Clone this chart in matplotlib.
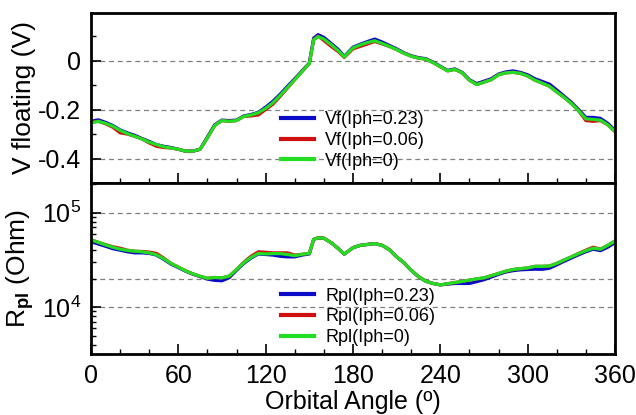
import numpy as np
import matplotlib
matplotlib.use("Agg")
import matplotlib.pyplot as plt
from matplotlib.ticker import MultipleLocator, FixedLocator, NullFormatter, LogLocator

plt.rcParams['font.family'] = ['Liberation Sans', 'DejaVu Sans']
plt.rcParams['axes.unicode_minus'] = False
plt.rcParams['mathtext.fontset'] = 'custom'
plt.rcParams['mathtext.rm'] = 'Liberation Sans'
plt.rcParams['mathtext.bf'] = 'Liberation Sans:bold'

# 궤도 각도 (deg)
angle = [0, 5, 10, 15, 20, 25, 30, 35, 40, 45, 50, 55, 60, 65, 70, 75, 80, 85, 90, 95,
         100, 105, 110, 115, 120, 125, 130, 135, 140, 145, 150, 153, 156, 160, 165, 170, 174,
         180, 185, 190, 195, 200, 205, 210, 215, 220, 225, 230, 235, 240, 245, 250, 255,
         260, 265, 270, 275, 280, 285, 290, 295, 300, 305, 310, 315, 320, 325, 330, 335,
         340, 345, 350, 355, 360]

# floating potential (V)
vf_0 = [-0.255, -0.248, -0.256, -0.268, -0.285, -0.298, -0.309, -0.320, -0.333, -0.343,
        -0.352, -0.357, -0.362, -0.370, -0.370, -0.362, -0.315, -0.265, -0.245, -0.248,
        -0.245, -0.228, -0.222, -0.213, -0.195, -0.172, -0.142, -0.110, -0.078, -0.045,
        -0.012, 0.085, 0.098, 0.088, 0.065, 0.040, 0.015,
        0.052, 0.064, 0.074, 0.081, 0.070, 0.058, 0.045, 0.030, 0.018, 0.010, 0.006, -0.008,
        -0.025, -0.042, -0.036, -0.050, -0.080, -0.098, -0.088, -0.078, -0.058, -0.050,
        -0.048, -0.052, -0.063, -0.080, -0.092, -0.105, -0.128, -0.150, -0.175, -0.205,
        -0.238, -0.240, -0.243, -0.262, -0.290]
vf_006 = [-0.252, -0.248, -0.258, -0.272, -0.295, -0.300, -0.309, -0.320, -0.336, -0.350,
          -0.355, -0.357, -0.362, -0.370, -0.370, -0.362, -0.315, -0.265, -0.245, -0.248,
          -0.245, -0.228, -0.226, -0.222, -0.200, -0.178, -0.146, -0.112, -0.078, -0.045,
          -0.012, 0.085, 0.100, 0.082, 0.058, 0.036, 0.013,
          0.048, 0.058, 0.068, 0.078, 0.068, 0.058, 0.045, 0.030, 0.018, 0.010, 0.006, -0.008,
          -0.025, -0.042, -0.036, -0.050, -0.080, -0.098, -0.088, -0.078, -0.058, -0.050,
          -0.048, -0.052, -0.063, -0.080, -0.092, -0.105, -0.128, -0.150, -0.175, -0.205,
          -0.245, -0.248, -0.245, -0.262, -0.290]
vf_023 = [-0.248, -0.242, -0.252, -0.265, -0.283, -0.295, -0.305, -0.318, -0.330, -0.343,
          -0.350, -0.355, -0.362, -0.370, -0.370, -0.362, -0.312, -0.262, -0.243, -0.245,
          -0.243, -0.226, -0.220, -0.211, -0.190, -0.166, -0.137, -0.105, -0.074, -0.042,
          -0.010, 0.092, 0.106, 0.095, 0.070, 0.045, 0.017,
          0.055, 0.067, 0.078, 0.088, 0.076, 0.062, 0.048, 0.032, 0.020, 0.012, 0.008, -0.006,
          -0.023, -0.040, -0.034, -0.048, -0.078, -0.094, -0.084, -0.074, -0.055, -0.046,
          -0.042, -0.048, -0.058, -0.074, -0.085, -0.096, -0.120, -0.145, -0.170, -0.200,
          -0.232, -0.232, -0.236, -0.256, -0.285]

# plasma resistance (Ohm)
rpl_0 = [51500, 48500, 45500, 43000, 41000, 39800, 39000, 38500, 37500, 35800,
         32500, 29000, 26500, 24200, 22500, 21200, 20200, 20600, 20400, 21300,
         25000, 29500, 33500, 37000, 36500, 36800, 36800, 36000, 35000, 36200,
         37000, 52000, 54000, 53500, 48000, 41500, 36300,
         42500, 45000, 46000, 47000, 45000, 40500, 34000, 29500, 24500, 21000, 18800, 17800,
         17200, 17700, 18200, 18700, 19300, 19900, 20400, 21500, 22700, 24000, 25000,
         25500, 26000, 27000, 27000, 27200, 29000, 31500, 34000, 36800, 39500, 42000,
         41000, 45000, 50000]
rpl_006 = [51500, 48500, 45800, 43500, 42000, 40000, 39000, 38800, 38200, 37000,
           33000, 29000, 26500, 24200, 22500, 21200, 20200, 20600, 20400, 21300,
           25000, 29800, 34500, 38500, 38000, 37500, 37500, 37500, 35500, 36200,
           37000, 52000, 54000, 53500, 48000, 41500, 36300,
           42500, 45000, 46000, 47000, 45000, 40500, 34000, 29500, 24500, 21000, 18800, 17800,
           17200, 17700, 18200, 18700, 19300, 19900, 20400, 21500, 22700, 24000, 25000,
           25500, 26000, 27000, 27000, 27200, 29000, 31500, 34000, 37000, 40000, 43000,
           41000, 45000, 50000]
rpl_023 = [49000, 46500, 44000, 41500, 40000, 38500, 37500, 37500, 37000, 35500,
           32000, 28500, 26200, 24000, 22300, 21000, 19800, 19200, 19000, 20500,
           24500, 29000, 33000, 36500, 36000, 35500, 34500, 34000, 34000, 35500,
           36500, 52000, 54000, 53500, 48000, 41500, 36300,
           42500, 45000, 46000, 47000, 45000, 40500, 34000, 29500, 24500, 21000, 18800, 17800,
           17200, 17500, 17800, 17800, 17800, 18600, 19500, 20800, 22200, 23500, 24300,
           24800, 25000, 25200, 25100, 25800, 28000, 30500, 33000, 35800, 38500, 41000,
           39500, 43000, 48000]

vf_labels = ["Vf(Iph=0.23)", "Vf(Iph=0.06)", "Vf(Iph=0)"]
rpl_labels = ["Rpl(Iph=0.23)", "Rpl(Iph=0.06)", "Rpl(Iph=0)"]
colors = ["#0a0ac8", "#d01010", "#22dd22"]

fig = plt.figure(figsize=(6.36, 4.15), dpi=100)
ax1 = fig.add_axes([0.143, 0.559, 0.824, 0.410])
ax2 = fig.add_axes([0.143, 0.147, 0.824, 0.412])

# 위쪽: V floating
for y, lab, c in zip([vf_023, vf_006, vf_0], vf_labels, colors):
    ax1.plot(angle, y, color=c, lw=2.3, label=lab)
for g in [0, -0.2, -0.4]:
    ax1.axhline(g, color="gray", lw=0.9, ls=(0, (4, 3)), zorder=0)
ax1.set_xlim(0, 360)
ax1.set_ylim(-0.5, 0.195)
ax1.yaxis.set_major_locator(FixedLocator([-0.4, -0.2, 0]))
ax1.yaxis.set_minor_locator(FixedLocator([-0.3, -0.1, 0.1]))
ax1.set_yticklabels(["-0.4", "-0.2", "0"])
ax1.set_ylabel("V floating (V)", fontsize=19)
ax1.tick_params(labelbottom=False)
ax1.legend(loc="upper left", bbox_to_anchor=(0.345, 0.474), frameon=False,
           fontsize=13, borderpad=0, handlelength=1.85, handletextpad=0.6,
           labelspacing=0.2)

# 아래쪽: R_pl (log)
for y, lab, c in zip([rpl_023, rpl_006, rpl_0], rpl_labels, colors):
    ax2.plot(angle, y, color=c, lw=2.3, label=lab)
for g in [1e5, 2e4, 1e4]:
    ax2.axhline(g, color="gray", lw=0.9, ls=(0, (4, 3)), zorder=0)
ax2.set_yscale("log")
ax2.set_xlim(0, 360)
ax2.set_ylim(3200, 2.05e5)
ax2.yaxis.set_major_locator(LogLocator(base=10, numticks=10))
ax2.yaxis.set_minor_locator(LogLocator(base=10, subs=np.arange(2, 10), numticks=10))
ax2.yaxis.set_minor_formatter(NullFormatter())
ax2.set_ylabel(r"R$_{\mathbf{pl}}$ (Ohm)", fontsize=19)
ax2.set_xlabel("Orbital Angle (º)", fontsize=18, labelpad=2)
ax2.legend(loc="upper left", bbox_to_anchor=(0.345, 0.44), frameon=False,
           fontsize=13, borderpad=0, handlelength=1.85, handletextpad=0.6,
           labelspacing=0.2)

for ax in (ax1, ax2):
    ax.xaxis.set_major_locator(MultipleLocator(60))
    ax.xaxis.set_minor_locator(MultipleLocator(20))
    ax.tick_params(which="both", direction="in", top=False, right=False, labelsize=18, pad=7)
    ax.tick_params(which="major", length=7, width=1.2)
    ax.tick_params(which="minor", length=3.5, width=1.0)
    for s in ax.spines.values():
        s.set_linewidth(2.0)
    ax.yaxis.set_label_coords(-0.105, 0.5)
    for line in ax.get_legend().get_lines():
        line.set_linewidth(3)

fig.savefig("out.png", dpi=100)
